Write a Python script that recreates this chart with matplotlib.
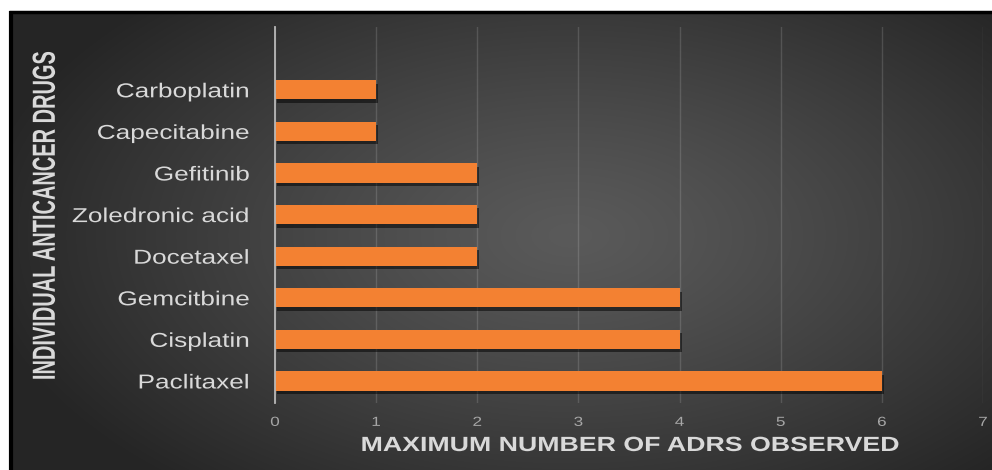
import numpy as np
import matplotlib
matplotlib.use("Agg")
import matplotlib.pyplot as plt
from matplotlib import font_manager
from matplotlib.patheffects import AbstractPathEffect, SimplePatchShadow, Normal
from matplotlib.transforms import Affine2D

# ---- data ----
drugs = ["Paclitaxel", "Cisplatin", "Gemcitbine", "Docetaxel",
         "Zoledronic acid", "Gefitinib", "Capecitabine", "Carboplatin"]
max_adrs = [6, 4, 4, 2, 2, 2, 1, 1]
x_ticks = [0, 1, 2, 3, 4, 5, 6, 7]
x_title = "MAXIMUM NUMBER OF ADRS OBSERVED"
y_title = "INDIVIDUAL ANTICANCER DRUGS"

W, H, DPI = 992, 470, 100


class HStretch(AbstractPathEffect):
    """Widen glyph outlines horizontally about a fixed display x."""

    def __init__(self, factor, x0):
        super().__init__()
        self.factor = factor
        self.x0 = x0

    def draw_path(self, renderer, gc, tpath, affine, rgbFace=None):
        aff = affine + Affine2D().translate(-self.x0, 0).scale(self.factor, 1).translate(self.x0, 0)
        renderer.draw_path(gc, tpath, aff, rgbFace)


names = {f.name for f in font_manager.fontManager.ttflist}
sans = "Liberation Sans" if "Liberation Sans" in names else "DejaVu Sans"
narrow = "Liberation Sans Narrow" if "Liberation Sans Narrow" in names else None

fig = plt.figure(figsize=(W / DPI, H / DPI), dpi=DPI, facecolor="white")

# ---- backdrop: radial grey gradient framed by a black edge ----
bg = fig.add_axes([0, 0, 1, 1], zorder=-10)
bg.set_xlim(0, W)
bg.set_ylim(H, 0)
bg.axis("off")
gx, gy = np.meshgrid(np.arange(12, W), np.arange(13, H))
r = np.sqrt(((gx - 570) / 600.0) ** 2 + ((gy - 235) / 330.0) ** 2)
t = np.clip(r, 0, 1) ** 1.2
c_in, c_out = 0x5a / 255, 0x25 / 255
grey = c_in + (c_out - c_in) * t
bg.imshow(np.dstack([grey, grey, grey]), extent=(12, W, H, 13),
          interpolation="bilinear", aspect="auto")
bg.plot([10.5, 10.5], [11, H], color="black", lw=3, solid_capstyle="butt")
bg.plot([9, W], [12, 12], color="black", lw=2.5, solid_capstyle="butt")

# ---- chart axes ----
ax_l, ax_r, ax_t, ax_b = 275, 983, 27, 403
ax = fig.add_axes([ax_l / W, 1 - ax_b / H, (ax_r - ax_l) / W, (ax_b - ax_t) / H])
ax.patch.set_alpha(0)

ypos = np.arange(len(drugs))
bars = ax.barh(ypos, max_adrs, height=0.46, color="#f38132", zorder=3)
for b in bars:
    b.set_path_effects([SimplePatchShadow(offset=(1.5, -2.5), shadow_rgbFace="black", alpha=0.5),
                        Normal()])

ax.set_xlim(0, 7)
ax.set_ylim(-0.53, 8.51)
ax.set_xticks(x_ticks)
ax.set_yticks(ypos)
ax.set_yticklabels(drugs)

ax.grid(axis="x", color="white", alpha=0.14, lw=1.0, zorder=0)
ax.grid(axis="y", visible=False)
for s in ("top", "right", "bottom"):
    ax.spines[s].set_visible(False)
ax.spines["left"].set_color("#b8b8b8")
ax.spines["left"].set_linewidth(1.3)
ax.spines["left"].set_zorder(4)

ax.tick_params(axis="y", length=0, pad=18, labelsize=14.5, labelcolor="#d9d9d9")
ax.tick_params(axis="x", length=0, pad=10, labelsize=9.5, labelcolor="#a6a6a6")

stretch = 1.3
label_right = ax_l - 25
for lab in ax.get_yticklabels():
    lab.set_fontfamily(sans)
    lab.set_path_effects([HStretch(stretch, label_right)])
for v, lab in zip(x_ticks, ax.get_xticklabels()):
    lab.set_fontfamily(sans)
    xpix = ax_l + (ax_r - ax_l) * v / 7.0
    lab.set_path_effects([HStretch(stretch, xpix)])

# axis titles
ax.set_xlabel(x_title, fontsize=14.8, fontweight="bold", color="#d9d9d9",
              family=sans, va="center")
ax.xaxis.set_label_coords(0.5, (ax_b - 445.5) / (ax_b - ax_t))
ax.xaxis.label.set_path_effects([HStretch(stretch, (ax_l + ax_r) / 2 - 1)])

yl_x = 46
if narrow:
    ax.set_ylabel(y_title, fontsize=17.6, fontweight="bold", color="#d9d9d9",
                  family=narrow, va="center")
    yfac = 1.45
else:
    ax.set_ylabel(y_title, fontsize=14.4, fontweight="bold", color="#d9d9d9",
                  family=sans, va="center")
    yfac = 1.6
ax.yaxis.set_label_coords((yl_x - ax_l) / (ax_r - ax_l), (ax_b - 215) / (ax_b - ax_t))
ax.yaxis.label.set_path_effects([HStretch(yfac, yl_x)])

fig.savefig("out.png", dpi=DPI)
